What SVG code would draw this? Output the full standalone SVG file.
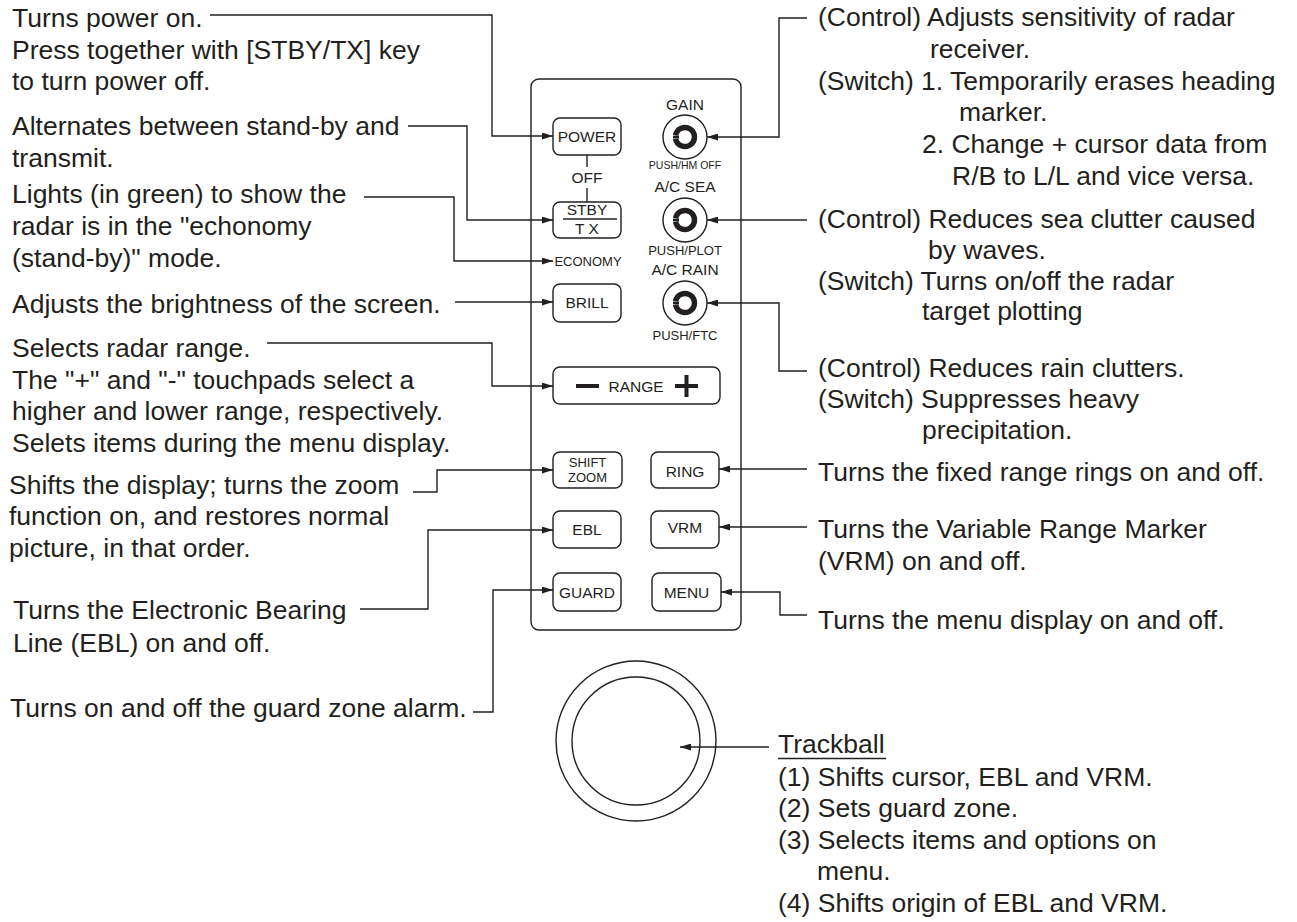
<svg xmlns="http://www.w3.org/2000/svg" width="1297" height="922" viewBox="0 0 1297 922">
<style>
.t{font-family:"Liberation Sans",Arial,sans-serif;font-size:26.5px;fill:#231f20}
.b{font-family:"Liberation Sans",Arial,sans-serif;font-size:15.5px;fill:#231f20;text-anchor:middle}
.s{font-family:"Liberation Sans",Arial,sans-serif;font-size:13px;fill:#231f20;text-anchor:middle}
.xs{font-family:"Liberation Sans",Arial,sans-serif;font-size:10.5px;fill:#231f20;text-anchor:middle}
.ln{fill:none;stroke:#231f20;stroke-width:1.4}
.btn{fill:#fff;stroke:#231f20;stroke-width:1.4}
.ring{fill:none;stroke:#231f20;stroke-width:5.5}
.c{fill:#231f20}
</style>
<defs>
<marker id="ah" viewBox="0 0 11 7" refX="11" refY="3.5" markerWidth="11" markerHeight="7" orient="auto" markerUnits="userSpaceOnUse">
<path d="M0,0 L11,3.5 L0,7 z" fill="#231f20"/>
</marker>
</defs>
<rect width="1297" height="922" fill="#fff"/>

<g id="panel">
<rect x="531" y="79" width="210" height="551" rx="8" class="btn"/>
</g>

<g id="power">
<rect x="553" y="118" width="68" height="37" rx="7" class="btn"/>
<text x="587" y="142" class="b">POWER</text>
</g>
<g id="off">
<line x1="587" y1="155" x2="587" y2="167" class="ln"/>
<text x="587" y="183" class="b">OFF</text>
<line x1="587" y1="188" x2="587" y2="202" class="ln"/>
</g>
<g id="stby">
<rect x="553" y="202" width="68" height="36" rx="7" class="btn"/>
<text x="587" y="215" class="b">STBY</text>
<line x1="563" y1="219" x2="617" y2="219" class="ln"/>
<text x="587" y="234" class="b">T X</text>
</g>
<g id="economy">
<text x="588" y="266" class="s">ECONOMY</text>
</g>
<g id="brill">
<rect x="553" y="284" width="68" height="38" rx="7" class="btn"/>
<text x="587" y="308" class="b">BRILL</text>
</g>

<g id="gain">
<text x="685" y="110" class="b">GAIN</text>
<circle cx="685" cy="137" r="22" class="ln"/>
<path d="M675.6,135.3 A9.5,9.5 0 1 1 675.6,138.7" class="ring"/>
<rect x="673" y="135.6" width="6" height="2.8" class="c"/>
<text x="685" y="169" class="xs">PUSH/HM OFF</text>
</g>
<g id="acsea">
<text x="685" y="192" class="b">A/C SEA</text>
<circle cx="685" cy="220" r="22" class="ln"/>
<path d="M675.6,218.3 A9.5,9.5 0 1 1 675.6,221.7" class="ring"/>
<rect x="673" y="218.6" width="6" height="2.8" class="c"/>
<text x="685" y="255" class="s">PUSH/PLOT</text>
</g>
<g id="acrain">
<text x="685" y="275" class="b">A/C RAIN</text>
<circle cx="685" cy="303" r="22" class="ln"/>
<path d="M675.6,301.3 A9.5,9.5 0 1 1 675.6,304.7" class="ring"/>
<rect x="673" y="301.6" width="6" height="2.8" class="c"/>
<text x="685" y="340" class="s">PUSH/FTC</text>
</g>

<g id="range">
<rect x="553" y="367" width="167" height="37" rx="7" class="btn"/>
<line x1="576" y1="386" x2="599" y2="386" stroke="#231f20" stroke-width="4"/>
<text x="636" y="392" class="b">RANGE</text>
<line x1="675" y1="386" x2="698" y2="386" stroke="#231f20" stroke-width="4"/>
<line x1="686.5" y1="375" x2="686.5" y2="397" stroke="#231f20" stroke-width="4"/>
</g>

<g id="shiftzoom">
<rect x="553" y="452" width="69" height="36" rx="7" class="btn"/>
<text x="587.5" y="467" class="s">SHIFT</text>
<text x="587.5" y="482" class="s">ZOOM</text>
</g>
<g id="ring">
<rect x="651" y="452" width="68" height="36" rx="7" class="btn"/>
<text x="685" y="477" class="b">RING</text>
</g>
<g id="ebl">
<rect x="553" y="511" width="68" height="37" rx="7" class="btn"/>
<text x="587" y="535" class="b">EBL</text>
</g>
<g id="vrm">
<rect x="651" y="511" width="68" height="37" rx="7" class="btn"/>
<text x="685" y="533" class="b">VRM</text>
</g>
<g id="guard">
<rect x="553" y="573" width="68" height="38" rx="7" class="btn"/>
<text x="587" y="598" class="b">GUARD</text>
</g>
<g id="menu">
<rect x="652" y="573" width="69" height="38" rx="7" class="btn"/>
<text x="686.5" y="598" class="b">MENU</text>
</g>

<g id="trackball">
<circle cx="636" cy="741" r="80" class="ln"/>
<circle cx="636" cy="741" r="64" class="ln"/>
</g>

<g id="connectors" class="ln">
<path d="M210,15 H492 V136 H553" marker-end="url(#ah)"/>
<path d="M408,126 H467 V220 H553" marker-end="url(#ah)"/>
<path d="M364,197 H454 V261 H553" marker-end="url(#ah)"/>
<path d="M455,302 H553" marker-end="url(#ah)"/>
<path d="M267,343 H492 V386 H553" marker-end="url(#ah)"/>
<path d="M413,492 H437 V470 H553" marker-end="url(#ah)"/>
<path d="M360,609 H428 V530 H553" marker-end="url(#ah)"/>
<path d="M473,712 H493 V590 H553" marker-end="url(#ah)"/>
<path d="M807,18 H779 V137 H707" marker-end="url(#ah)"/>
<path d="M807,220 H707" marker-end="url(#ah)"/>
<path d="M807,371 H779 V303 H707" marker-end="url(#ah)"/>
<path d="M807,469 H719" marker-end="url(#ah)"/>
<path d="M807,527 H719" marker-end="url(#ah)"/>
<path d="M807,615 H780 V592 H721" marker-end="url(#ah)"/>
<path d="M769,747 H680" marker-end="url(#ah)"/>
</g>

<g id="left-labels">
<text x="12" y="27" class="t">Turns power on.</text>
<text x="12" y="58.5" class="t">Press together with [STBY/TX] key</text>
<text x="12" y="90" class="t">to turn power off.</text>
<text x="12" y="135" class="t">Alternates between stand-by and</text>
<text x="12" y="167" class="t">transmit.</text>
<text x="12" y="203" class="t">Lights (in green) to show the</text>
<text x="12" y="234.5" class="t">radar is in the "echonomy</text>
<text x="12" y="266.5" class="t">(stand-by)" mode.</text>
<text x="12" y="313" class="t">Adjusts the brightness of the screen.</text>
<text x="12" y="357" class="t">Selects radar range.</text>
<text x="12" y="388.5" class="t">The "+" and "-" touchpads select a</text>
<text x="12" y="420" class="t">higher and lower range, respectively.</text>
<text x="12" y="452" class="t">Selets items during the menu display.</text>
<text x="9" y="493.5" class="t">Shifts the display; turns the zoom</text>
<text x="9" y="525" class="t">function on, and restores normal</text>
<text x="9" y="557" class="t">picture, in that order.</text>
<text x="13" y="618.5" class="t">Turns the Electronic Bearing</text>
<text x="13" y="651.5" class="t">Line (EBL) on and off.</text>
<text x="10" y="717" class="t">Turns on and off the guard zone alarm.</text>
</g>

<g id="right-labels">
<text x="818" y="26" class="t">(Control) Adjusts sensitivity of radar</text>
<text x="930" y="57.5" class="t">receiver.</text>
<text x="818" y="90" class="t">(Switch) 1. Temporarily erases heading</text>
<text x="959" y="121" class="t">marker.</text>
<text x="922" y="153" class="t">2. Change + cursor data from</text>
<text x="952" y="185" class="t">R/B to L/L and vice versa.</text>
<text x="818" y="228" class="t">(Control) Reduces sea clutter caused</text>
<text x="928" y="259" class="t">by waves.</text>
<text x="818" y="290" class="t">(Switch) Turns on/off the radar</text>
<text x="922" y="320" class="t">target plotting</text>
<text x="818" y="377" class="t">(Control) Reduces rain clutters.</text>
<text x="818" y="408" class="t">(Switch) Suppresses heavy</text>
<text x="922" y="438.5" class="t">precipitation.</text>
<text x="818" y="481" class="t">Turns the fixed range rings on and off.</text>
<text x="818" y="538" class="t">Turns the Variable Range Marker</text>
<text x="818" y="570" class="t">(VRM) on and off.</text>
<text x="818" y="629" class="t">Turns the menu display on and off.</text>
</g>

<g id="trackball-labels">
<text x="778" y="753" class="t">Trackball</text>
<line x1="778" y1="758.5" x2="886" y2="758.5" class="ln"/>
<text x="778" y="786" class="t">(1) Shifts cursor, EBL and VRM.</text>
<text x="778" y="817" class="t">(2) Sets guard zone.</text>
<text x="778" y="848.5" class="t">(3) Selects items and options on</text>
<text x="817" y="880" class="t">menu.</text>
<text x="778" y="912" class="t">(4) Shifts origin of EBL and VRM.</text>
</g>
</svg>
